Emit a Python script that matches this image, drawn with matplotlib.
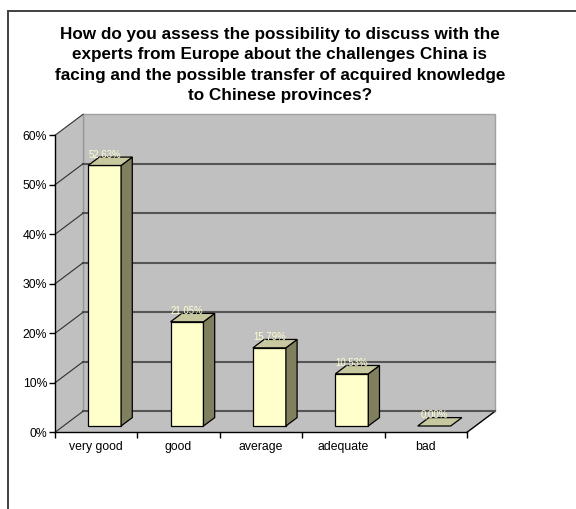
import numpy as np
import matplotlib.pyplot as plt
from matplotlib.patches import Polygon, Rectangle

plt.rcParams['font.family'] = ['Liberation Sans', 'DejaVu Sans']

title = ('How do you assess the possibility to discuss with the\n'
         'experts from Europe about the challenges China is\n'
         'facing and the possible transfer of acquired knowledge\n'
         'to Chinese provinces?')
categories = ['very good', 'good', 'average', 'adequate', 'bad']
values = [52.63, 21.05, 15.79, 10.53, 0.00]
yticks = [0, 10, 20, 30, 40, 50, 60]

# 3d look: depth offset in data units
DX = 0.34
DY = 4.24
f0, f1 = 0.3, 0.7   # bar front / back depth fraction
bw = 0.4

fig = plt.figure(figsize=(5.76, 5.09), dpi=100)

# outer frame (only left and top edges fall inside the picture)
fig.patches.append(Rectangle((8/576, -0.1), 1.2, (1 - 11/509) + 0.1,
                             transform=fig.transFigure, fill=False,
                             edgecolor='#404040', linewidth=1.4))

fig.text(280/576, 1 - 65/509, title, ha='center', va='center',
         fontsize=12.3, fontweight='bold', linespacing=1.47)

ax = fig.add_axes([55/576, 1 - 432.3/509, 412/576, 297/509])
ax.set_xlim(0, len(categories))
ax.set_ylim(0, 60)
ax.patch.set_visible(False)

ymax = yticks[-1]
n = len(categories)
# back wall
ax.add_patch(Polygon([(DX, DY), (n + DX, DY), (n + DX, ymax + DY), (DX, ymax + DY)],
                     closed=True, facecolor='#c0c0c0', edgecolor='#a0a0a0',
                     linewidth=1.0, zorder=0, clip_on=False))
# left wall
ax.add_patch(Polygon([(0, 0), (DX, DY), (DX, ymax + DY), (0, ymax)],
                     closed=True, facecolor='#c0c0c0', edgecolor='none',
                     zorder=0, clip_on=False))
# floor
ax.add_patch(Polygon([(0, 0), (n, 0), (n + DX, DY), (DX, DY)],
                     closed=True, facecolor='#c0c0c0', edgecolor='none',
                     zorder=0, clip_on=False))
ax.plot([n, n + DX], [0, DY], color='black', lw=1.0, clip_on=False, zorder=1)
ax.plot([DX, DX], [DY, ymax + DY], color='#999999', lw=1.0, clip_on=False, zorder=1)

# gridlines on back wall and diagonals on left wall
for t in yticks:
    if t < ymax:
        ax.plot([DX, n + DX], [t + DY, t + DY], color='#555555', lw=1.5,
                clip_on=False, zorder=1)
    ax.plot([0, DX], [t, t + DY], color='#303030', lw=0.8, clip_on=False, zorder=1)

# bars
for i, v in enumerate(values):
    x0 = i + 0.5 - bw / 2 + f0 * DX
    x1 = x0 + bw
    yb = f0 * DY
    yt = v + f0 * DY
    ddx = (f1 - f0) * DX
    ddy = (f1 - f0) * DY
    if v > 0:
        ax.add_patch(Polygon([(x0, yb), (x1, yb), (x1, yt), (x0, yt)], closed=True,
                             facecolor='#ffffcc', edgecolor='black', lw=0.9,
                             zorder=3, clip_on=False))
        ax.add_patch(Polygon([(x1, yb), (x1 + ddx, yb + ddy), (x1 + ddx, yt + ddy), (x1, yt)],
                             closed=True, facecolor='#80805f', edgecolor='black',
                             lw=0.9, zorder=3, clip_on=False))
    ax.add_patch(Polygon([(x0, yt), (x1, yt), (x1 + ddx, yt + ddy), (x0 + ddx, yt + ddy)],
                         closed=True, facecolor='#c8c8a0', edgecolor='black',
                         lw=0.9, zorder=3, clip_on=False))
    ax.text(i + 0.5 + f0 * DX, v + f1 * DY + 0.6, f'{v:.2f}%'.replace('.', ','),
            ha='center', va='center', fontsize=6.9, color='#ffffcc', zorder=4)

for s in ['top', 'right']:
    ax.spines[s].set_visible(False)
for s in ['left', 'bottom']:
    ax.spines[s].set_color('black')
    ax.spines[s].set_linewidth(1.0)

ax.set_yticks(yticks)
ax.set_yticklabels([f'{t}%' for t in yticks])
ax.set_xticks(range(n + 1))
ax.set_xticklabels([])
ax.set_xticks(np.arange(n) + 0.5, minor=True)
ax.set_xticklabels(categories, minor=True)
ax.tick_params(axis='y', direction='out', length=4.5, width=1.0, pad=1,
               labelsize=8.8, colors='black')
ax.tick_params(axis='x', which='major', direction='out', length=4, width=1.0)
ax.tick_params(axis='x', which='minor', length=0, pad=6, labelsize=8.8)

fig.savefig('out.png', dpi=100)
